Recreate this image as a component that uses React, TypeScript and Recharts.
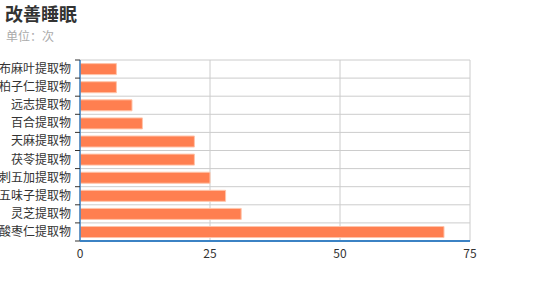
import React from "react";
import { BarChart, Bar, XAxis, YAxis, CartesianGrid } from "recharts";

const categories = ["布麻叶提取物", "柏子仁提取物", "远志提取物", "百合提取物", "天麻提取物", "茯苓提取物", "刺五加提取物", "五味子提取物", "灵芝提取物", "酸枣仁提取物"];
const values = [7, 7, 10, 12, 22, 22, 25, 28, 31, 70];
const xTicks = [0, 25, 50, 75];

const data = categories.map((name, i) => ({ name, value: values[i] }));

const W = 550;
const H = 300;
const M = { top: 60, right: 80, left: 0, bottom: 29 };
const PLOT_H = H - M.top - M.bottom - 30;
const BAND = PLOT_H / categories.length;
const FONT = "'Noto Sans CJK SC', 'Noto Sans', sans-serif";

const YTick = (props: any) => {
  const { x, y, payload, index } = props;
  const ax = x + 8;
  return (
    <g>
      <text x={x - 1} y={y} dy={4} textAnchor="end" fontSize={12} fill="#333" fontFamily={FONT}>
        {payload.value}
      </text>
      <line x1={ax - 5} x2={ax} y1={y - BAND / 2} y2={y - BAND / 2} stroke="#333" strokeWidth={1} />
      {index === categories.length - 1 && (
        <line x1={ax - 5} x2={ax} y1={y + BAND / 2} y2={y + BAND / 2} stroke="#333" strokeWidth={1} />
      )}
    </g>
  );
};

export default function App() {
  return (
    <div style={{ position: "absolute", left: 0, top: 0, width: W, height: H, fontFamily: FONT }}>
      <div style={{ position: "absolute", left: 5, top: 0, fontSize: 18, fontWeight: 700, color: "#333", lineHeight: "26px" }}>
        改善睡眠
      </div>
      <div style={{ position: "absolute", left: 6, top: 27, fontSize: 12, color: "#aaa", lineHeight: "18px" }}>
        单位：次
      </div>
      <BarChart width={W} height={H} data={data} layout="vertical" margin={M} barCategoryGap="20%">
        <CartesianGrid
          stroke="#ccc"
          strokeWidth={1}
          horizontalCoordinatesGenerator={({ offset }: any) => {
            const arr: number[] = [];
            for (let i = 0; i <= categories.length; i++) arr.push(offset.top + (offset.height * i) / categories.length);
            return arr;
          }}
        />
        <XAxis
          type="number"
          domain={[0, 75]}
          ticks={xTicks}
          axisLine={{ stroke: "#3b82c4", strokeWidth: 2 }}
          tickLine={false}
          tick={{ fontSize: 12, fill: "#333", fontFamily: FONT }}
          height={30}
        />
        <YAxis
          type="category"
          dataKey="name"
          width={80}
          axisLine={{ stroke: "#3b82c4", strokeWidth: 1.5 }}
          tickLine={false}
          tick={<YTick />}
          interval={0}
        />
        <Bar dataKey="value" fill="#ff7f50" stroke="#ffc4aa" strokeWidth={1} isAnimationActive={false} />
      </BarChart>
    </div>
  );
}
